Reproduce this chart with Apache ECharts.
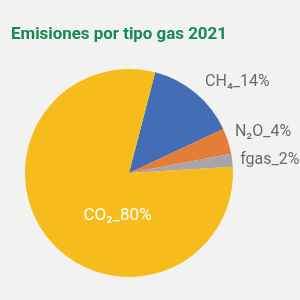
<!DOCTYPE html>
<html><head><meta charset="utf-8">
<script src="https://cdn.jsdelivr.net/npm/echarts@6/dist/echarts.min.js"></script>
<style>html,body{margin:0;padding:0;background:#f2f2f0}#c{width:300px;height:300px}</style>
</head><body><div id="c"></div>
<script>
const titleText = 'Emisiones por tipo gas 2021';
const categories = ['CH₄', 'N₂O', 'fgas', 'CO₂'];
const values = [14, 4, 2, 80];
const colors = ['#436db5', '#e57d36', '#a8a4a7', '#f5bc1c'];

const chart = echarts.init(document.getElementById('c'));
const font = 'Roboto,"DejaVu Sans",sans-serif';
// vertical nudges of labels (px): negative = up, positive = down
const labelNudge = { 'CH₄': -3, 'N₂O': -9, 'fgas': 0, 'CO₂': 8 };
const labelTweaks = {
  'CH₄': { labelLine: { length: 11, length2: -2.5 } },
  'N₂O': { labelLine: { length: 2 } },
  'fgas': { labelLine: { length: 4, length2: -1 } },
  'CO₂': { label: { position: 'inside', color: '#ffffff', fontSize: 17, padding: [0, 0, 0, 62] } }
};
const data = categories.map((c, i) => Object.assign(
  { name: c, value: values[i], itemStyle: { color: colors[i] } }, labelTweaks[c]));
chart.setOption({
  backgroundColor: '#f2f2f0',
  animation: false,
  title: {
    text: titleText, left: 6, top: 21,
    textStyle: { color: '#148a55', fontSize: 16.9, fontWeight: 'bold', fontFamily: font }
  },
  series: [{
    type: 'pie',
    center: [129, 173],
    radius: 104,
    startAngle: 75.4,
    clockwise: true,
    avoidLabelOverlap: false,
    labelLayout: { hideOverlap: false },
    label: {
      show: true, position: 'outside', color: '#6a6a6a', fontSize: 16, lineHeight: 18, fontFamily: font,
      formatter: p => {
        const n = labelNudge[p.name] || 0;
        const txt = p.name + '_' + p.value + '%';
        if (n > 0) return '{s' + (2 * n) + '| }\n' + txt;
        if (n < 0) return txt + '\n{s' + (-2 * n) + '| }';
        return txt;
      },
      rich: { s6: { lineHeight: 6, fontSize: 1 }, s18: { lineHeight: 18, fontSize: 1 }, s16: { lineHeight: 16, fontSize: 1 } }
    },
    labelLine: { show: false, length: 10, length2: 0 },
    data: data
  }]
});
</script></body></html>
